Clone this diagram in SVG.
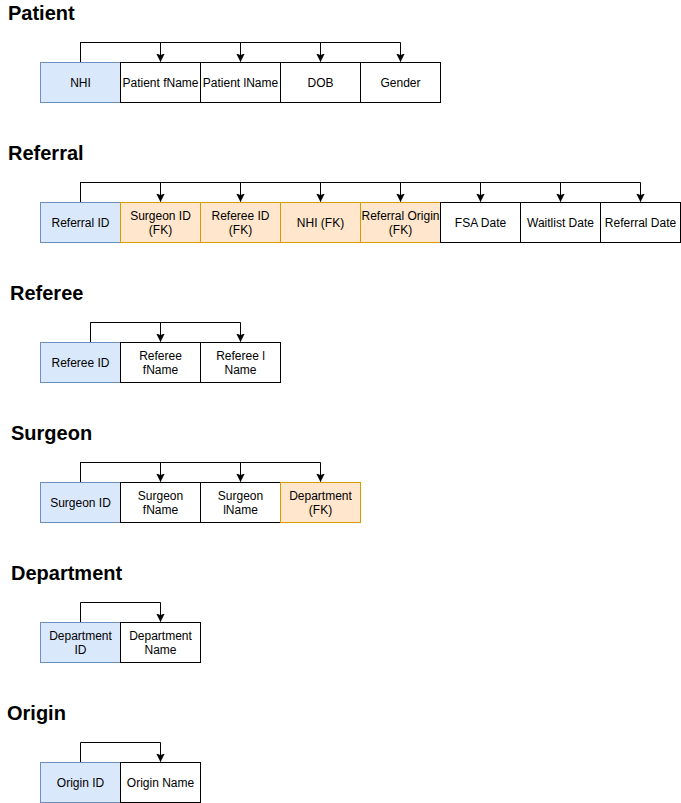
<svg xmlns="http://www.w3.org/2000/svg" width="681" height="803" viewBox="0 0 681 803">
<style>
.t{font-family:"Liberation Sans",Arial,Helvetica,sans-serif;font-size:20px;font-weight:bold;fill:#000}
.c{font-family:"Liberation Sans",Arial,Helvetica,sans-serif;font-size:12px;fill:#000;text-anchor:middle}
.pk{fill:#dae8fc;stroke:#6c8ebf;stroke-width:1}
.fk{fill:#ffe6cc;stroke:#d79b00;stroke-width:1}
.at{fill:#ffffff;stroke:#000;stroke-width:1}
.e{fill:none;stroke:#000;stroke-width:1}
</style>
<defs>
<marker id="ar" markerUnits="userSpaceOnUse" markerWidth="10" markerHeight="10" refX="8" refY="4" orient="auto" viewBox="0 0 10 10">
<path d="M0,0 L8,4 L0,8 L2,4 Z" fill="#000" stroke="#000" stroke-width="0.5"/>
</marker>
</defs>
<rect width="681" height="803" fill="#fff"/>
<g id="titles">
<text class="t" x="8" y="20">Patient</text>
<text class="t" x="8" y="160">Referral</text>
<text class="t" x="10" y="300">Referee</text>
<text class="t" x="11" y="440">Surgeon</text>
<text class="t" x="11" y="580">Department</text>
<text class="t" x="7" y="720">Origin</text>
</g>
<g transform="translate(0.5,0.5)">
<g id="connectors">
<path class="e" marker-end="url(#ar)" d="M80,62 V42 H160 V61"/>
<path class="e" marker-end="url(#ar)" d="M80,62 V42 H240 V61"/>
<path class="e" marker-end="url(#ar)" d="M80,62 V42 H320 V61"/>
<path class="e" marker-end="url(#ar)" d="M80,62 V42 H400 V61"/>
<path class="e" marker-end="url(#ar)" d="M80,202 V182 H160 V201"/>
<path class="e" marker-end="url(#ar)" d="M80,202 V182 H240 V201"/>
<path class="e" marker-end="url(#ar)" d="M80,202 V182 H320 V201"/>
<path class="e" marker-end="url(#ar)" d="M80,202 V182 H400 V201"/>
<path class="e" marker-end="url(#ar)" d="M80,202 V182 H480 V201"/>
<path class="e" marker-end="url(#ar)" d="M80,202 V182 H560 V201"/>
<path class="e" marker-end="url(#ar)" d="M80,202 V182 H640 V201"/>
<path class="e" marker-end="url(#ar)" d="M90,342 V322 H160 V341"/>
<path class="e" marker-end="url(#ar)" d="M90,342 V322 H240 V341"/>
<path class="e" marker-end="url(#ar)" d="M80,482 V462 H160 V481"/>
<path class="e" marker-end="url(#ar)" d="M80,482 V462 H240 V481"/>
<path class="e" marker-end="url(#ar)" d="M80,482 V462 H320 V481"/>
<path class="e" marker-end="url(#ar)" d="M80,622 V602 H160 V621"/>
<path class="e" marker-end="url(#ar)" d="M80,762 V742 H160 V761"/>
</g>
<g id="patient">
<rect class="pk" x="40" y="62" width="80" height="40"/>
<rect class="at" x="120" y="62" width="80" height="40"/>
<rect class="at" x="200" y="62" width="80" height="40"/>
<rect class="at" x="280" y="62" width="80" height="40"/>
<rect class="at" x="360" y="62" width="80" height="40"/>
<text class="c" x="80" y="86">NHI</text>
<text class="c" x="160" y="86">Patient fName</text>
<text class="c" x="240" y="86">Patient lName</text>
<text class="c" x="320" y="86">DOB</text>
<text class="c" x="400" y="86">Gender</text>
</g>
<g id="referral">
<rect class="pk" x="40" y="202" width="80" height="40"/>
<rect class="fk" x="120" y="202" width="80" height="40"/>
<rect class="fk" x="200" y="202" width="80" height="40"/>
<rect class="fk" x="280" y="202" width="80" height="40"/>
<rect class="fk" x="360" y="202" width="80" height="40"/>
<rect class="at" x="440" y="202" width="80" height="40"/>
<rect class="at" x="520" y="202" width="80" height="40"/>
<rect class="at" x="600" y="202" width="80" height="40"/>
<text class="c" x="80" y="226">Referral ID</text>
<text class="c" x="160" y="219">Surgeon ID</text>
<text class="c" x="160" y="233">(FK)</text>
<text class="c" x="240" y="219">Referee ID</text>
<text class="c" x="240" y="233">(FK)</text>
<text class="c" x="320" y="226">NHI (FK)</text>
<text class="c" x="400" y="219">Referral Origin</text>
<text class="c" x="400" y="233">(FK)</text>
<text class="c" x="480" y="226">FSA Date</text>
<text class="c" x="560" y="226">Waitlist Date</text>
<text class="c" x="640" y="226">Referral Date</text>
</g>
<g id="referee">
<rect class="pk" x="40" y="342" width="80" height="40"/>
<rect class="at" x="120" y="342" width="80" height="40"/>
<rect class="at" x="200" y="342" width="80" height="40"/>
<text class="c" x="80" y="366">Referee ID</text>
<text class="c" x="160" y="359">Referee</text>
<text class="c" x="160" y="373">fName</text>
<text class="c" x="240" y="359">Referee l</text>
<text class="c" x="240" y="373">Name</text>
</g>
<g id="surgeon">
<rect class="pk" x="40" y="482" width="80" height="40"/>
<rect class="at" x="120" y="482" width="80" height="40"/>
<rect class="at" x="200" y="482" width="80" height="40"/>
<rect class="fk" x="280" y="482" width="80" height="40"/>
<text class="c" x="80" y="506">Surgeon ID</text>
<text class="c" x="160" y="499">Surgeon</text>
<text class="c" x="160" y="513">fName</text>
<text class="c" x="240" y="499">Surgeon</text>
<text class="c" x="240" y="513">lName</text>
<text class="c" x="320" y="499">Department</text>
<text class="c" x="320" y="513">(FK)</text>
</g>
<g id="department">
<rect class="pk" x="40" y="622" width="80" height="40"/>
<rect class="at" x="120" y="622" width="80" height="40"/>
<text class="c" x="80" y="639">Department</text>
<text class="c" x="80" y="653">ID</text>
<text class="c" x="160" y="639">Department</text>
<text class="c" x="160" y="653">Name</text>
</g>
<g id="origin">
<rect class="pk" x="40" y="762" width="80" height="40"/>
<rect class="at" x="120" y="762" width="80" height="40"/>
<text class="c" x="80" y="786">Origin ID</text>
<text class="c" x="160" y="786">Origin Name</text>
</g>
</g>
</svg>
